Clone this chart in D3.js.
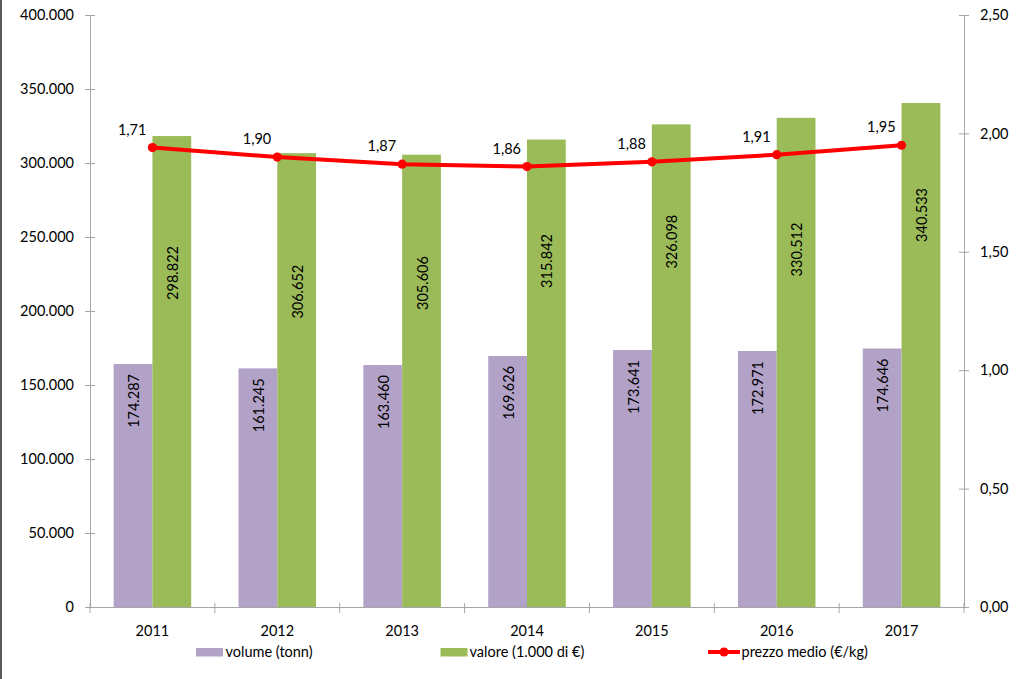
<!DOCTYPE html>
<html>
<head>
<meta charset="utf-8">
<script src="https://cdn.jsdelivr.net/npm/d3@7"></script>
<style>
  html, body { margin: 0; padding: 0; background: #fff; }
  svg { display: block; }
  text { font-family: Lato, "Noto Sans", sans-serif; fill: #000; }
</style>
</head>
<body>
<svg id="chart" width="1023" height="679"></svg>
<script>
// ---------- data ----------
const years = ["2011", "2012", "2013", "2014", "2015", "2016", "2017"];
// bar heights as drawn in the picture
const volume = [164200, 161245, 163460, 169626, 173641, 172971, 174646];
const valore = [318200, 306652, 305606, 315842, 326098, 330512, 340533];
const prezzo = [1.94, 1.90, 1.87, 1.86, 1.88, 1.91, 1.95];
// data labels as printed in the picture
const volumeLabels = [174287, 161245, 163460, 169626, 173641, 172971, 174646];
const valoreLabels = [298822, 306652, 305606, 315842, 326098, 330512, 340533];
const prezzoLabels = [1.71, 1.90, 1.87, 1.86, 1.88, 1.91, 1.95];
// where the valore labels sit (centre, in left-axis units)
const valoreLabelAt = [225700, 213050, 218900, 233800, 246850, 241550, 264900];
const leftTicks = [0, 50000, 100000, 150000, 200000, 250000, 300000, 350000, 400000];
const rightTicks = [0, 0.5, 1.0, 1.5, 2.0, 2.5];
const legendLabels = ["volume (tonn)", "valore (1.000 di €)", "prezzo medio (€/kg)"];

// ---------- setup ----------
const locale = d3.formatLocale({ decimal: ",", thousands: ".", grouping: [3], currency: ["€", ""] });
const fmtInt = locale.format(",d");
const fmt2 = locale.format(".2f");

const colVol = "#b3a2c7", colVal = "#9bbb59", colLine = "#ff0000", axisCol = "#a6a6a6";
const FS = "14.5px";

const svg = d3.select("#chart");
const L = 90, R = 964, T = 15, B = 607;

const x = d3.scaleBand().domain(years).range([L, R]).paddingInner(0).paddingOuter(0);
const x1 = d3.scaleBand().domain(["volume", "valore"]).range([0, x.bandwidth()]).paddingInner(0).paddingOuter(0.61);
const yL = d3.scaleLinear().domain([0, 400000]).range([B, T]);
const yR = d3.scaleLinear().domain([0, 2.5]).range([B, T]);

// left border of the picture
svg.append("rect").attr("x", 0).attr("y", 0).attr("width", 2).attr("height", 679).attr("fill", "#595959");

// ---------- bars ----------
const rows = years.map((yr, i) => ({ yr, i, volume: volume[i], valore: valore[i], prezzo: prezzo[i] }));

svg.append("g").selectAll("rect").data(rows).join("rect")
  .attr("x", d => x(d.yr) + x1("volume"))
  .attr("y", d => yL(d.volume))
  .attr("width", x1.bandwidth())
  .attr("height", d => yL(0) - yL(d.volume))
  .attr("fill", colVol);

svg.append("g").selectAll("rect").data(rows).join("rect")
  .attr("x", d => x(d.yr) + x1("valore"))
  .attr("y", d => yL(d.valore))
  .attr("width", x1.bandwidth())
  .attr("height", d => yL(0) - yL(d.valore))
  .attr("fill", colVal);

// ---------- axes ----------
const axL = svg.append("g").attr("transform", `translate(${L},0)`)
  .call(d3.axisLeft(yL).tickValues(leftTicks).tickFormat(d => d === 0 ? "0" : fmtInt(d)).tickSizeOuter(0).tickSize(5));
axL.select(".domain").attr("stroke", axisCol);
axL.selectAll(".tick line").attr("stroke", axisCol).attr("x1", 5).attr("x2", -5);
axL.selectAll(".tick text").attr("x", -16).style("font-size", FS).attr("fill", "#000");

const axR = svg.append("g").attr("transform", `translate(${R},0)`)
  .call(d3.axisRight(yR).tickValues(rightTicks).tickFormat(fmt2).tickSizeOuter(0).tickSize(5));
axR.select(".domain").attr("stroke", axisCol);
axR.selectAll(".tick line").attr("stroke", axisCol).attr("x1", -5).attr("x2", 5);
axR.selectAll(".tick text").attr("x", 16).style("font-size", FS).attr("fill", "#000");

const axB = svg.append("g").attr("transform", `translate(0,${B})`)
  .call(d3.axisBottom(x).tickSize(0).tickSizeOuter(0));
axB.select(".domain").attr("stroke", axisCol);
axB.selectAll(".tick text").attr("y", 18.5).style("font-size", FS).attr("fill", "#000");
// category boundary tick marks
const bounds = d3.range(years.length + 1).map(k => L + k * x.step());
svg.append("g").selectAll("line").data(bounds).join("line")
  .attr("x1", d => d).attr("x2", d => d)
  .attr("y1", B - 4).attr("y2", B + 6)
  .attr("stroke", axisCol);

// ---------- line ----------
const line = d3.line().x(d => x(d.yr) + x.bandwidth() / 2).y(d => yR(d.prezzo));
svg.append("path").datum(rows).attr("d", line)
  .attr("fill", "none").attr("stroke", colLine).attr("stroke-width", 4).attr("stroke-linejoin", "round");
svg.append("g").selectAll("circle").data(rows).join("circle")
  .attr("cx", d => x(d.yr) + x.bandwidth() / 2)
  .attr("cy", d => yR(d.prezzo))
  .attr("r", 4.6).attr("fill", colLine);

// ---------- data labels ----------
svg.append("g").selectAll("text").data(rows).join("text")
  .attr("transform", d => `translate(${x(d.yr) + x1("volume") + x1.bandwidth() / 2 + 1},${yL(d.volume) + 10}) rotate(-90)`)
  .attr("text-anchor", "end").attr("dy", "0.35em")
  .style("font-size", FS)
  .text(d => fmtInt(volumeLabels[d.i]));

svg.append("g").selectAll("text").data(rows).join("text")
  .attr("transform", d => `translate(${x(d.yr) + x1("valore") + x1.bandwidth() / 2 + 1},${yL(valoreLabelAt[d.i])}) rotate(-90)`)
  .attr("text-anchor", "middle").attr("dy", "0.35em")
  .style("font-size", FS)
  .text(d => fmtInt(valoreLabels[d.i]));

svg.append("g").selectAll("text").data(rows).join("text")
  .attr("x", d => x(d.yr) + x.bandwidth() / 2 - 6)
  .attr("y", d => yR(d.prezzo) - 13)
  .attr("text-anchor", "end")
  .style("font-size", FS)
  .text(d => fmt2(prezzoLabels[d.i]));

// ---------- legend ----------
const lg = svg.append("g");
const LY = 652;
lg.append("rect").attr("x", 196).attr("y", LY - 4).attr("width", 27).attr("height", 8.5).attr("fill", colVol);
lg.append("text").attr("x", 225.5).attr("y", LY).attr("dy", "0.35em").style("font-size", FS).text(legendLabels[0]);
lg.append("rect").attr("x", 440.5).attr("y", LY - 4).attr("width", 27).attr("height", 8.5).attr("fill", colVal);
lg.append("text").attr("x", 469.5).attr("y", LY).attr("dy", "0.35em").style("font-size", FS).text(legendLabels[1]);
lg.append("line").attr("x1", 708).attr("x2", 740).attr("y1", LY).attr("y2", LY).attr("stroke", colLine).attr("stroke-width", 4);
lg.append("circle").attr("cx", 724).attr("cy", LY).attr("r", 4.6).attr("fill", colLine);
lg.append("text").attr("x", 741.5).attr("y", LY).attr("dy", "0.35em").style("font-size", FS).text(legendLabels[2]);
</script>
</body>
</html>
